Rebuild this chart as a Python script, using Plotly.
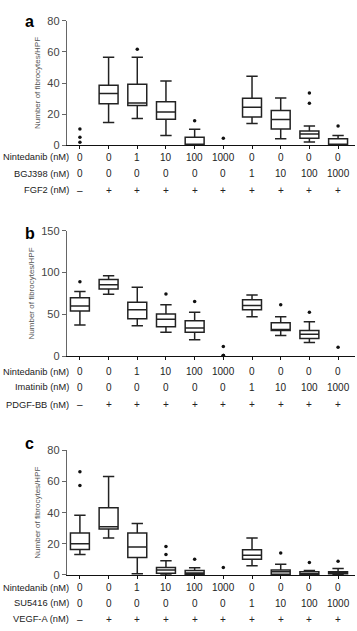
import plotly.graph_objects as go

W, H = 357, 631

# ---------------- data ----------------
positions = list(range(10))

# Panel a
a_nintedanib = ["0", "0", "1", "10", "100", "1000", "0", "0", "0", "0"]
a_bgj398 = ["0", "0", "0", "0", "0", "0", "1", "10", "100", "1000"]
a_fgf2 = ["–", "+", "+", "+", "+", "+", "+", "+", "+", "+"]
a_lower = [None, 14.7, 17.2, 6.3, 0, None, 14, 4.2, 2.1, 0]
a_q1 = [None, 26.6, 25.5, 16.8, 0, None, 18.2, 10.5, 4.6, 0]
a_median = [None, 33.3, 27.2, 21.4, 0, None, 24.5, 16.5, 7.3, 0.4]
a_q3 = [None, 38.5, 39.2, 28.0, 5.2, None, 30.2, 22.4, 9.2, 4.2]
a_upper = [None, 56.5, 56.5, 41.3, 10.3, None, 44.4, 30.4, 12.4, 6.3]
a_out_x = [0, 0, 0, 2, 4, 5, 8, 8, 9]
a_out_y = [10.5, 5.2, 1.9, 61.6, 15.7, 4.6, 33.5, 27.0, 12.4]

# Panel b
b_nintedanib = ["0", "0", "1", "10", "100", "1000", "0", "0", "0", "0"]
b_imatinib = ["0", "0", "0", "0", "0", "0", "1", "10", "100", "1000"]
b_pdgf = ["–", "+", "+", "+", "+", "+", "+", "+", "+", "+"]
b_lower = [37.2, 74.0, 36.4, 28.6, 19.6, None, 47.0, 24.7, 16.5, None]
b_q1 = [54.0, 80.3, 44.7, 35.3, 28.6, None, 55.6, 30.6, 21.2, None]
b_median = [59.9, 85.4, 55.6, 44.3, 33.7, None, 60.7, 32.0, 26.2, None]
b_q3 = [69.7, 91.7, 64.6, 50.5, 42.3, None, 67.4, 40.0, 30.6, None]
b_upper = [77.2, 96.0, 82.3, 61.5, 52.5, None, 73.2, 47.0, 41.1, None]
b_out_x = [0, 3, 4, 5, 5, 5, 5, 7, 8, 9]
b_out_y = [88.9, 74.4, 65.4, 11.7, 1.0, 1.0, 1.0, 61.5, 52.5, 10.6]

# Panel c
c_nintedanib = ["0", "0", "1", "10", "100", "1000", "0", "0", "0", "0"]
c_su5416 = ["0", "0", "0", "0", "0", "0", "1", "10", "100", "1000"]
c_vegf = ["–", "+", "+", "+", "+", "+", "+", "+", "+", "+"]
c_lower = [13.1, 23.8, 0.8, 0, 0, None, 5.9, 0, 0, 0]
c_q1 = [16.4, 29.5, 11.2, 1.1, 0.4, None, 10.1, 0.4, 0, 0.8]
c_median = [20.0, 30.9, 17.9, 3.2, 1.3, None, 12.6, 2.1, 0.8, 1.3]
c_q3 = [26.9, 43.2, 26.9, 4.8, 2.9, None, 16.2, 3.2, 2.1, 2.1]
c_upper = [38.3, 63.2, 33.0, 9.1, 4.6, None, 23.8, 6.9, 2.9, 4.2]
c_out_x = [0, 0, 3, 3, 4, 5, 7, 8, 9]
c_out_y = [66.3, 57.5, 18.3, 13.1, 10.1, 4.8, 14.1, 8.0, 8.8]

panels = [
    dict(letter="a", yrange=[0, 80], dtick=20,
         lower=a_lower, q1=a_q1, med=a_median, q3=a_q3, upper=a_upper,
         ox=a_out_x, oy=a_out_y,
         rows=[("Nintedanib (nM)", a_nintedanib), ("BGJ398 (nM)", a_bgj398), ("FGF2 (nM)", a_fgf2)]),
    dict(letter="b", yrange=[0, 150], dtick=50,
         lower=b_lower, q1=b_q1, med=b_median, q3=b_q3, upper=b_upper,
         ox=b_out_x, oy=b_out_y,
         rows=[("Nintedanib (nM)", b_nintedanib), ("Imatinib (nM)", b_imatinib), ("PDGF-BB (nM)", b_pdgf)]),
    dict(letter="c", yrange=[0, 80], dtick=20,
         lower=c_lower, q1=c_q1, med=c_median, q3=c_q3, upper=c_upper,
         ox=c_out_x, oy=c_out_y,
         rows=[("Nintedanib (nM)", c_nintedanib), ("SU5416 (nM)", c_su5416), ("VEGF-A (nM)", c_vegf)]),
]

# ---------------- layout geometry (pixels) ----------------
x_left_px, x_right_px = 67, 355
y_top_px = [15, 229, 453]
y_bot_px = [142, 357, 580]
row_px = [[154, 171, 188], [373, 388.5, 406.5], [593, 609, 625]]
letter_px = [5, 221, 435]

FONT = "Liberation Sans, Arial, sans-serif"
LINE = "#222"

fig = go.Figure()
layout = dict(
    width=W, height=H, margin=dict(l=0, r=0, t=0, b=0),
    paper_bgcolor="white", plot_bgcolor="white",
    showlegend=False, boxmode="overlay",
    font=dict(family=FONT, size=10, color="#222"),
    annotations=[],
)

for i, p in enumerate(panels):
    sfx = "" if i == 0 else str(i + 1)
    xa, ya = "x" + sfx, "y" + sfx
    idx = [k for k in positions if p["q1"][k] is not None]
    fig.add_trace(go.Box(
        x=[positions[k] for k in idx],
        q1=[p["q1"][k] for k in idx],
        median=[p["med"][k] for k in idx],
        q3=[p["q3"][k] for k in idx],
        lowerfence=[p["lower"][k] for k in idx],
        upperfence=[p["upper"][k] for k in idx],
        width=0.66, whiskerwidth=0.6,
        line=dict(color=LINE, width=1.5),
        fillcolor="white", boxpoints=False,
        xaxis=xa, yaxis=ya, hoverinfo="skip",
    ))
    fig.add_trace(go.Scatter(
        x=p["ox"], y=p["oy"], mode="markers",
        marker=dict(color="#111", size=3.5, symbol="circle"),
        xaxis=xa, yaxis=ya, hoverinfo="skip", cliponaxis=False,
    ))
    x_rng = [-0.45, 9.59]
    layout["xaxis" + sfx] = dict(
        domain=[x_left_px / W, x_right_px / W], range=x_rng,
        anchor=ya, showline=True, linecolor="#111", linewidth=1.4,
        ticks="outside", ticklen=3, tickcolor="#111", tickwidth=1,
        tickvals=positions, showticklabels=False, showgrid=False, zeroline=False,
    )
    layout["yaxis" + sfx] = dict(
        domain=[1 - y_bot_px[i] / H, 1 - y_top_px[i] / H], range=p["yrange"],
        anchor=xa, showline=True, linecolor="#666", linewidth=1.4,
        ticks="outside", ticklen=4, tickcolor="#666", tickwidth=1.2,
        dtick=p["dtick"], showgrid=False, zeroline=False,
        tickfont=dict(size=11, color="#444", family=FONT),
        title=dict(text="Number of fibrocytes/HPF", standoff=5,
                   font=dict(size=8, color="#555", family=FONT)),
    )
    # panel letter
    layout["annotations"].append(dict(
        text="<b>%s</b>" % p["letter"], xref="paper", yref="paper",
        x=23 / W, y=1 - letter_px[i] / H, xanchor="left", yanchor="top",
        showarrow=False, font=dict(size=16, color="#000", family=FONT)))
    # condition table
    for r, (label, vals) in enumerate(p["rows"]):
        ypos = 1 - row_px[i][r] / H
        layout["annotations"].append(dict(
            text=label, xref="paper", yref="paper", x=71 / W, y=ypos,
            xanchor="right", yanchor="middle", showarrow=False,
            font=dict(size=9.3, color="#222", family=FONT)))
        for k, v in zip(positions, vals):
            layout["annotations"].append(dict(
                text=v, xref=xa, yref="paper", x=k, y=ypos,
                xanchor="center", yanchor="middle", showarrow=False,
                font=dict(size=10, color="#222", family=FONT)))

fig.update_layout(**layout)
fig.write_html(
    "out.html",
    config={"displayModeBar": False},
    post_script="document.body.style.margin='0';document.body.style.overflow='hidden';",
)
